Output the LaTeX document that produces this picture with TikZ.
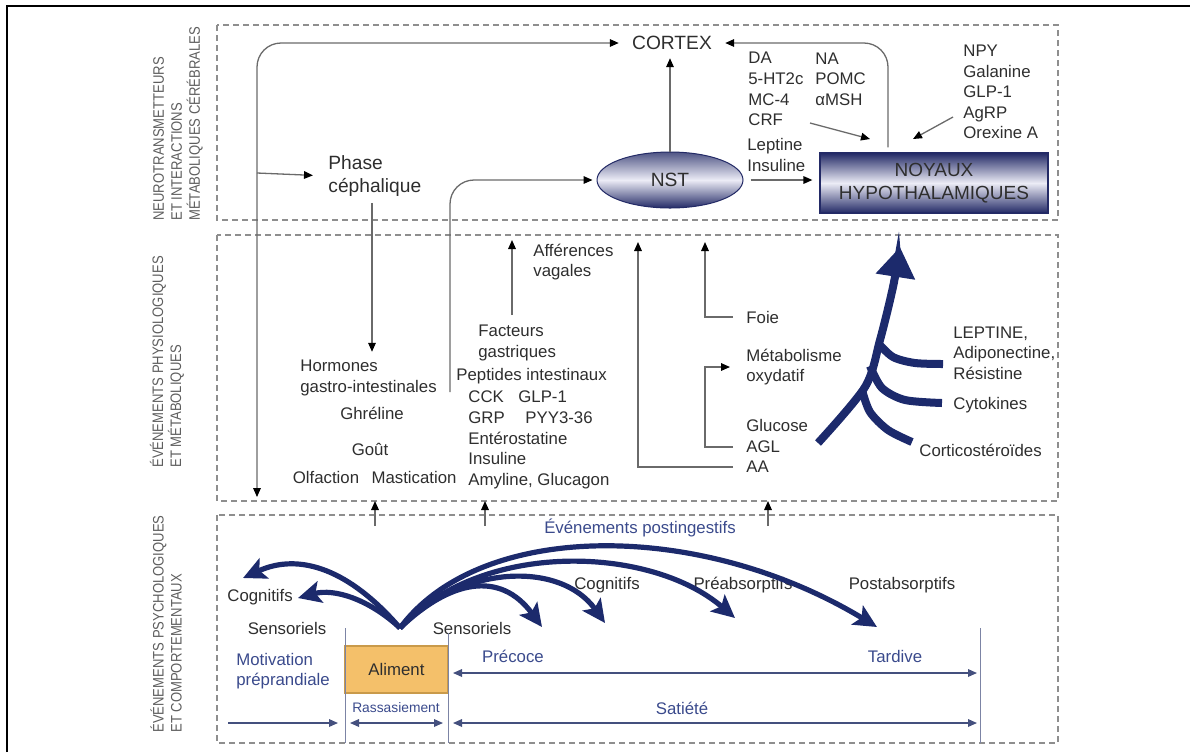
\documentclass[tikz,border=0pt]{standalone}
\usepackage{fontspec}
\setmainfont{Liberation Sans}
\newfontfamily\sidefont{Liberation Sans}[FakeStretch=0.86]
\usepackage{xcolor}
\usetikzlibrary{arrows.meta, positioning, shapes.geometric}

\definecolor{navyArr}{HTML}{1C2A6C}
\definecolor{navyDark}{HTML}{232A66}
\definecolor{navyLight}{HTML}{ECECF6}
\definecolor{txtGray}{HTML}{2E2E2E}
\definecolor{sideGray}{HTML}{5E5E5E}
\definecolor{zoneGray}{HTML}{8E8E8E}
\definecolor{lineGray}{HTML}{6A6A6A}
\definecolor{blueTxt}{HTML}{3A4A8C}
\definecolor{timeBlue}{HTML}{44507E}
\definecolor{alimFill}{HTML}{F4C06A}
\definecolor{alimDraw}{HTML}{C99A4A}

\tikzset{
  zone/.style={draw=zoneGray, line width=0.8pt, dash pattern=on 3pt off 2pt},
  txt/.style={inner sep=0pt, text=txtGray, font=\fontsize{8.4}{10.3}\selectfont, align=left},
  bigtxt/.style={txt, font=\fontsize{9.6}{11.5}\selectfont},
  bluetxt/.style={txt, text=blueTxt},
  sidetxt/.style={inner sep=0pt, text=sideGray, font=\sidefont\fontsize{7.6}{9}\selectfont, align=left, rotate=90, anchor=west},
  arr/.style={line width=0.65pt, draw=lineGray, -{Triangle[length=4.5pt,width=3.8pt,color=black]}},
  arrboth/.style={line width=0.65pt, draw=lineGray, {Triangle[length=4.5pt,width=3.8pt,color=black]}-{Triangle[length=4.5pt,width=3.8pt,color=black]}},
  fatarr/.style={line width=2.6pt, draw=navyArr, -{Stealth[length=11.5pt,width=11pt,inset=2.5pt]}},
  branch/.style={line width=4pt, draw=navyArr},
  timearr/.style={line width=0.7pt, draw=timeBlue, {Triangle[length=4.5pt,width=3.8pt]}-{Triangle[length=4.5pt,width=3.8pt]}},
  timeright/.style={line width=0.7pt, draw=timeBlue, -{Triangle[length=4.5pt,width=3.8pt]}},
  sepline/.style={line width=0.5pt, draw=timeBlue!70},
}

\begin{document}
\begin{tikzpicture}[x=0.5pt, y=-0.5pt]
    \useasboundingbox (0,0) rectangle (1190,752);

    % Frame
    \draw[line width=1.3pt] (7,752) -- (7,6) -- (1190,6);

    % Zones
    \draw[zone] (217,25) rectangle (1058,220);
    \draw[zone] (217,235) rectangle (1058,501);
    \draw[zone] (217,515) rectangle (1058,743);

    % Zone titles
    \node[sidetxt] (zoneNeuro) at (178,221) {NEUROTRANSMETTEURS\\ET INTERACTIONS\\MÉTABOLIQUES CÉRÉBRALES};
    \node[sidetxt] (zonePhysio) at (167,468) {ÉVÉNEMENTS PHYSIOLOGIQUES\\ET MÉTABOLIQUES};
    \node[sidetxt] (zonePsycho) at (166,733) {ÉVÉNEMENTS PSYCHOLOGIQUES\\ET COMPORTEMENTAUX};

    % Brain level
    \node[bigtxt, inner xsep=6.5pt] (cortex) at (672,43) {CORTEX};
    \node[bigtxt, anchor=west] (phase) at (328,176) {Phase\\céphalique};
    \node[ellipse, draw=navyDark, line width=0.5pt, top color=navyDark!80, bottom color=navyDark, middle color=navyLight,
          minimum width=73pt, minimum height=28pt, inner sep=0pt, font=\fontsize{9.6}{11}\selectfont, text=txtGray] (nst) at (670,180) {NST};
    \node[draw=navyDark, line width=0.6pt, top color=navyDark, bottom color=navyDark, middle color=navyLight,
          minimum width=114pt, minimum height=30pt, inner sep=0pt, align=center,
          font=\fontsize{9.5}{11.5}\selectfont, text=txtGray] (noyaux) at (934,183) {NOYAUX\\HYPOTHALAMIQUES};
    \node[txt, anchor=west] (neuroA) at (748,89) {DA\\5-HT2c\\MC-4\\CRF};
    \node[txt, anchor=west] (neuroB) at (815,79) {NA\\POMC\\αMSH};
    \node[txt, anchor=west] (lepIns) at (747,155) {Leptine\\Insuline};
    \node[txt, anchor=west] (orexig) at (963,92) {NPY\\Galanine\\GLP-1\\AgRP\\Orexine A};

    % Physiological level
    \node[txt, anchor=west] (vagal) at (533,262) {Afférences\\vagales};
    \node[txt, anchor=west] (facteurs) at (478,343) {Facteurs\\gastriques};
    \node[txt, anchor=west] (peptides) at (456,376) {Peptides intestinaux};
    \node[txt, anchor=west] (peptList) at (468,440) {\makebox[25pt][l]{CCK}GLP-1\\\makebox[28.5pt][l]{GRP}PYY3-36\\Entérostatine\\Insuline\\Amyline, Glucagon};
    \node[txt, anchor=west] (hormones) at (300,378) {Hormones\\gastro-intestinales};
    \node[txt] (ghreline) at (372,413) {Ghréline};
    \node[txt] (gout) at (370,449) {Goût};
    \node[txt] (olfaction) at (326,477) {Olfaction};
    \node[txt] (mastication) at (414,477) {Mastication};
    \node[txt, anchor=west] (foie) at (746,317) {Foie};
    \node[txt, anchor=west] (metab) at (746,367) {Métabolisme\\oxydatif};
    \node[txt, anchor=west] (glucose) at (746,425) {Glucose};
    \node[txt, anchor=west] (agl) at (746,447) {AGL};
    \node[txt, anchor=west] (aa) at (746,467) {AA};
    \node[txt, anchor=west] (leptine) at (953,353) {LEPTINE,\\Adiponectine,\\Résistine};
    \node[txt, anchor=west] (cytokines) at (953,405) {Cytokines};
    \node[txt, anchor=west] (cortico) at (919,450) {Corticostéroïdes};

    % Behavioural level
    \node[bluetxt] (postIng) at (640,528) {Événements postingestifs};
    \node[txt, anchor=west] (cogL) at (227,597) {Cognitifs};
    \node[txt] (sensL) at (287,628) {Sensoriels};
    \node[txt] (sensR) at (472,628) {Sensoriels};
    \node[txt] (cogR) at (607,585) {Cognitifs};
    \node[txt] (preAbs) at (743,585) {Préabsorptifs};
    \node[txt] (postAbs) at (902,585) {Postabsorptifs};
    \node[bluetxt, anchor=west] (motiv) at (236,671) {Motivation\\préprandiale};
    \node[draw=alimDraw, line width=0.6pt, fill=alimFill, minimum width=51.5pt, minimum height=23.5pt,
          font=\fontsize{8.4}{10}\selectfont, text=txtGray] (aliment) at (396.5,669.5) {Aliment};
    \node[bluetxt, font=\fontsize{6.9}{8}\selectfont] (rassas) at (396,708) {Rassasiement};
    \node[bluetxt] (precoce) at (513,656) {Précoce};
    \node[bluetxt] (tardive) at (895,656) {Tardive};
    \node[bluetxt] (satiete) at (682,708) {Satiété};

    % Free ends
    \coordinate (loopBot) at (257,497);
    \coordinate (loopMid) at (257,173);
    \coordinate (peptOut) at (450,392);
    \coordinate (hypoX) at (888,0);
    \coordinate (crfA) at (810,123);
    \coordinate (crfB) at (870,139);
    \coordinate (npyA) at (953,117);
    \coordinate (npyB) at (913,139);
    \coordinate (vagBot) at (512,315);
    \coordinate (vagTop) at (512,240);
    \coordinate (foieTop) at (705,242);
    \coordinate (aaTop) at (638,242);

    % Brain connectors
    \draw[arrboth, rounded corners=12pt] (loopBot) |- (cortex.west);
    \draw[arr, shorten >=7.5pt] (loopMid) -- (phase.west);
    \draw[arr, shorten <=3pt, shorten >=4pt] (phase.south -| ghreline) -- (hormones.north -| ghreline);
    \draw[arr, rounded corners=12pt, shorten >=2pt] (peptOut) |- (nst.west);
    \draw[arr, shorten >=4pt] (nst.north) -- (nst.north |- cortex.south);
    \draw[arr, rounded corners=12pt, shorten <=2.5pt] (noyaux.north -| hypoX) |- (cortex.east);
    \draw[arr, shorten <=3.5pt, shorten >=3.5pt] (nst.east) -- (nst.east -| noyaux.west);
    \draw[arr] (crfA) -- (crfB);
    \draw[arr] (npyA) -- (npyB);

    % Physiological connectors
    \draw[arr] (vagBot) -- (vagTop);
    \draw[arr, shorten <=6.5pt] (foie.west) -| (foieTop);
    \draw[arr, shorten <=6.5pt] (aa.west) -| (aaTop);
    \draw[arr, shorten <=6.5pt, shorten >=8pt] (agl.west) -- (agl.west -| foieTop) |- (metab.west);

    % Peripheral signals
    \draw[line width=4pt, draw=navyArr, -{Triangle[length=15pt,width=19pt]}]
        plot[smooth] coordinates {(818,443) (865,387) (880,340) (893,287) (900,247)};
    \draw[branch] plot[smooth] coordinates {(878,343) (893,357) (915,363) (943,364)};
    \draw[branch] plot[smooth] coordinates {(870,366) (882,388) (905,400) (942,403)};
    \draw[branch] plot[smooth] coordinates {(862,390) (870,412) (888,430) (912,442)};

    % Between levels
    \draw[arr] (375,526) -- (375,501);
    \draw[arr] (485,526) -- (485,501);
    \draw[arr] (768,526) -- (768,501);

    % Meal time line
    \coordinate (sepAtop) at (345,628);
    \coordinate (sepAbot) at (345,743);
    \coordinate (sepBtop) at (448,633);
    \coordinate (sepBbot) at (448,743);
    \coordinate (sepCtop) at (980,628);
    \coordinate (sepCbot) at (980,743);
    \coordinate (rowEarly) at (0,673);
    \coordinate (rowFull) at (0,723);
    \coordinate (motStart) at (228,723);
    \draw[sepline] (sepAtop) -- (sepAbot);
    \draw[sepline] (sepBtop) -- (sepBbot);
    \draw[sepline] (sepCtop) -- (sepCbot);
    \draw[timearr, shorten <=2.5pt, shorten >=1.5pt] (sepBbot |- rowEarly) -- (sepCbot |- rowEarly);
    \draw[timeright, shorten >=3.5pt] (motStart) -- (sepAbot |- rowFull);
    \draw[timearr, shorten <=2.5pt, shorten >=2.5pt] (sepAbot |- rowFull) -- (sepBbot |- rowFull);
    \draw[timearr, shorten <=2.5pt, shorten >=1.5pt] (sepBbot |- rowFull) -- (sepCbot |- rowFull);

    % Events arrows
    \coordinate (alimTop) at (400,628);
    \coordinate (tipCogL) at (243,578);
    \coordinate (tipSensL) at (298,598);
    \coordinate (tipSensR) at (542,627);
    \coordinate (tipCogR) at (605,623);
    \coordinate (tipPre) at (735,618);
    \coordinate (tipPost) at (877,627);
    \draw[fatarr] (alimTop) .. controls (350,570) and (300,552) .. (tipCogL);
    \draw[fatarr] (alimTop) .. controls (370,600) and (335,588) .. (tipSensL);
    \draw[fatarr] (alimTop) .. controls (450,580) and (500,570) .. (tipSensR);
    \draw[fatarr] (alimTop) .. controls (460,565) and (560,560) .. (tipCogR);
    \draw[fatarr] (alimTop) .. controls (480,540) and (650,545) .. (tipPre);
    \draw[fatarr] (alimTop) .. controls (480,520) and (700,520) .. (tipPost);
\end{tikzpicture}
\end{document}
